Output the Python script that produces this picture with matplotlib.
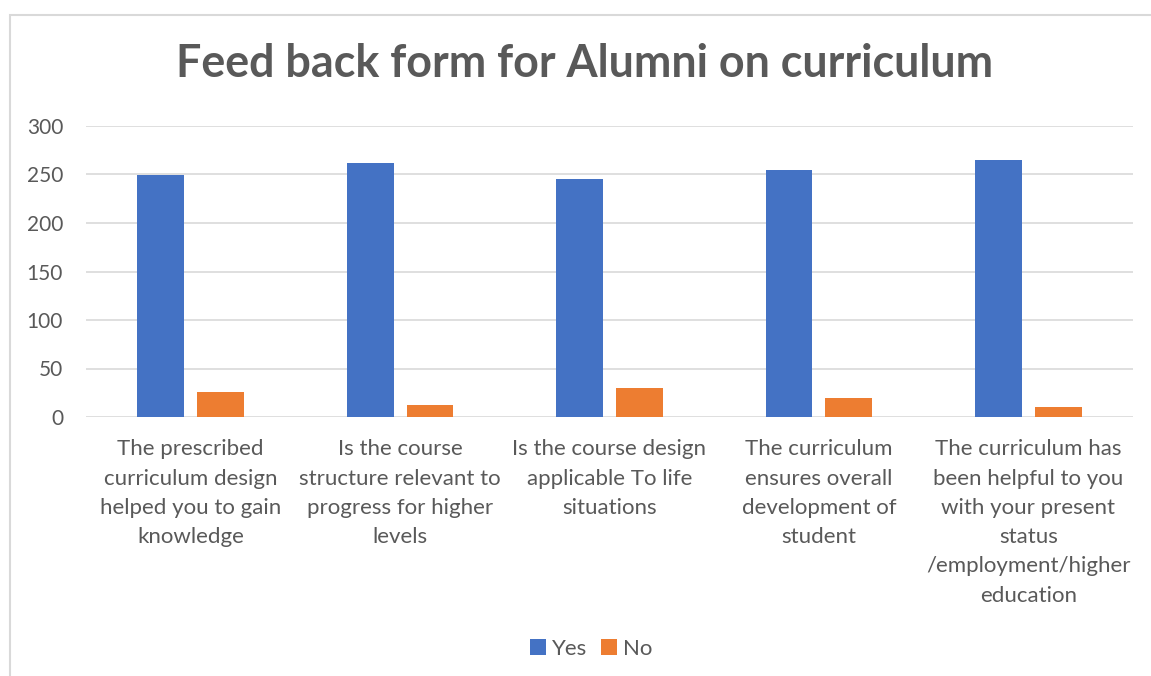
import matplotlib
matplotlib.use("Agg")
import matplotlib.pyplot as plt
import numpy as np
from matplotlib.patches import Rectangle

title = "Feed back form for Alumni on curriculum"
categories = [
    "The prescribed\ncurriculum design\nhelped you to gain\nknowledge",
    "Is the course\nstructure relevant to\nprogress for higher\nlevels",
    "Is the course design\napplicable To life\nsituations",
    "The curriculum\nensures overall\ndevelopment of\nstudent",
    "The curriculum has\nbeen helpful to you\nwith your present\nstatus\n/employment/higher\neducation",
]
yes = [249, 262, 245, 255, 265]
no = [26, 12, 30, 20, 10]
yticks = [0, 50, 100, 150, 200, 250, 300]

TXT = "#595959"
plt.rcParams["font.family"] = ["Lato", "DejaVu Sans"]

fig = plt.figure(figsize=(11.51, 6.76), dpi=100)
fig.patches.append(Rectangle((9.5 / 1151, -0.1), 1.2, 1.1 - 14.5 / 676,
                             transform=fig.transFigure, fill=False,
                             edgecolor="#d9d9d9", lw=1.5))

ax = fig.add_axes([86 / 1151, 1 - 417 / 676, (1133 - 86) / 1151, 291 / 676])
x = np.arange(len(categories))
w = 0.224
ax.bar(x - 0.143, yes, w, color="#4472c4", label="Yes", zorder=3)
ax.bar(x + 0.143, no, w, color="#ed7d31", label="No", zorder=3)

ax.set_xlim(-0.5, len(categories) - 0.5)
ax.set_ylim(0, 300)
ax.set_yticks(yticks)
ax.yaxis.grid(True, color="#d9d9d9", lw=1.2, zorder=0)
ax.set_axisbelow(True)
for s in ax.spines.values():
    s.set_visible(False)
ax.tick_params(length=0, labelsize=15, colors=TXT)
ax.tick_params(axis="y", pad=16.5)
ax.tick_params(axis="x", pad=16, labelsize=16)
ax.set_xticks(x)
ax.set_xticklabels(categories, linespacing=1.58, va="top")

fig.text(0.508, 1 - 64 / 676, title, ha="center", va="center",
         fontsize=32.3, fontweight="bold", color=TXT)

leg = fig.legend(loc="center", bbox_to_anchor=(591 / 1151, 1 - 649 / 676), ncol=2,
                 frameon=False, fontsize=16, handlelength=0.75, handleheight=0.75,
                 handletextpad=0.25, columnspacing=0.6)
for t in leg.get_texts():
    t.set_color(TXT)

fig.savefig("out.png", dpi=100)
